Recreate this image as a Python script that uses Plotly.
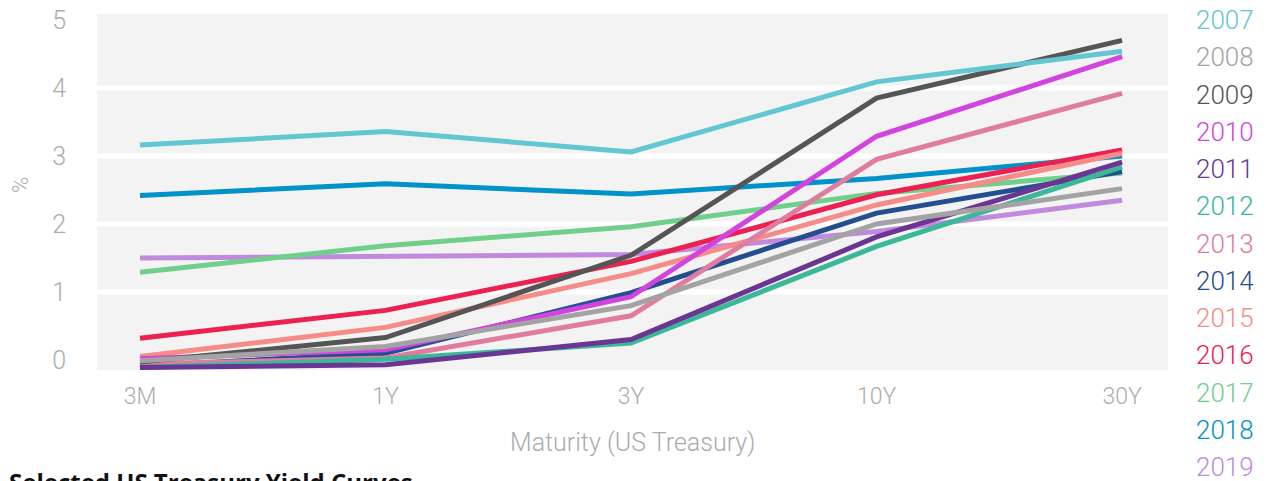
import plotly.graph_objects as go

# Treasury maturities on the x axis
maturities = ["3M", "1Y", "3Y", "10Y", "30Y"]

# Yield (%) per year, one value per maturity
y2007 = [3.16, 3.36, 3.06, 4.09, 4.54]
y2008 = [-0.01, 0.20, 0.80, 2.00, 2.52]
y2009 = [-0.03, 0.33, 1.54, 3.85, 4.70]
y2010 = [0.02, 0.15, 0.93, 3.29, 4.46]
y2011 = [-0.11, -0.07, 0.30, 1.81, 2.91]
y2012 = [-0.11, 0.01, 0.25, 1.67, 2.84]
y2013 = [-0.06, 0.03, 0.65, 2.95, 3.92]
y2014 = [-0.09, 0.10, 0.99, 2.16, 2.77]
y2015 = [0.05, 0.48, 1.27, 2.28, 3.04]
y2016 = [0.32, 0.73, 1.45, 2.43, 3.09]
y2017 = [1.29, 1.68, 1.96, 2.45, 2.75]
y2018 = [2.42, 2.59, 2.44, 2.67, 3.00]
y2019 = [1.50, 1.52, 1.55, 1.89, 2.35]

years = ["2007", "2008", "2009", "2010", "2011", "2012", "2013",
         "2014", "2015", "2016", "2017", "2018", "2019"]
series = [y2007, y2008, y2009, y2010, y2011, y2012, y2013,
          y2014, y2015, y2016, y2017, y2018, y2019]
colors = ["#62c6d3", "#a3a3a3", "#555555", "#d244dd", "#6b3693", "#3bb898",
          "#e07ca0", "#234f90", "#f58c88", "#ec2151", "#70cf8b", "#0092c9",
          "#c08ade"]

grid_levels = [1, 2, 3, 4]
y_ticks = [0, 1, 2, 3, 4, 5]

FONT = "Roboto"
GREY = "#ababab"

fig = go.Figure()

# later years underneath, earlier years on top
for name, vals, col in reversed(list(zip(years, series, colors))):
    fig.add_trace(go.Scatter(
        x=maturities, y=vals, mode="lines", name=name,
        line=dict(color=col, width=5), showlegend=False,
    ))

# white horizontal bands
for lvl in grid_levels:
    fig.add_shape(type="line", xref="paper", yref="y", x0=0, x1=1, y0=lvl, y1=lvl,
                  line=dict(color="white", width=5), layer="below")

# year labels in series colours, stacked at the right
annotations = []
for i, (name, col) in enumerate(zip(years, colors)):
    py = 20 + i * 37.25
    annotations.append(dict(
        text=name, xref="paper", yref="paper",
        x=(1256 - 97) / 1071, y=(370 - py) / 356,
        xanchor="right", yanchor="middle", showarrow=False,
        font=dict(family=FONT, size=26, color=col, weight=300),
    ))

annotations.append(dict(
    text="Maturity (US Treasury)", xref="paper", yref="paper",
    x=0.5, y=(370 - 442) / 356, xanchor="center", yanchor="middle",
    showarrow=False, font=dict(family=FONT, size=25, color=GREY, weight=300),
))
annotations.append(dict(
    text="%", xref="paper", yref="paper",
    x=(20 - 97) / 1071, y=(370 - 185) / 356, xanchor="center", yanchor="middle",
    textangle=-90, showarrow=False,
    font=dict(family=FONT, size=22, color=GREY, weight=300),
))
annotations.append(dict(
    text="<b>Selected US Treasury Yield Curves</b>", xref="paper", yref="paper",
    x=(7 - 97) / 1071, y=(370 - 463) / 356, xanchor="left", yanchor="top",
    showarrow=False, font=dict(family="Open Sans", size=24, color="#111111"),
))

fig.update_layout(
    width=1267, height=481,
    margin=dict(l=97, r=99, t=14, b=111, autoexpand=False),
    paper_bgcolor="white", plot_bgcolor="#f3f3f3",
    annotations=annotations,
    xaxis=dict(
        type="category", categoryorder="array", categoryarray=maturities,
        range=[-0.175, 4.187], showgrid=False, zeroline=False, showline=False,
        ticks="", ticklabelstandoff=10,
        tickfont=dict(family=FONT, size=23, color=GREY, weight=300),
    ),
    yaxis=dict(
        range=[-0.147, 5.088], tickvals=y_ticks, showgrid=False, zeroline=False,
        showline=False, ticks="", ticklabelstandoff=30,
        tickfont=dict(family=FONT, size=25, color=GREY, weight=300),
    ),
)

fig.write_html("out.html")
